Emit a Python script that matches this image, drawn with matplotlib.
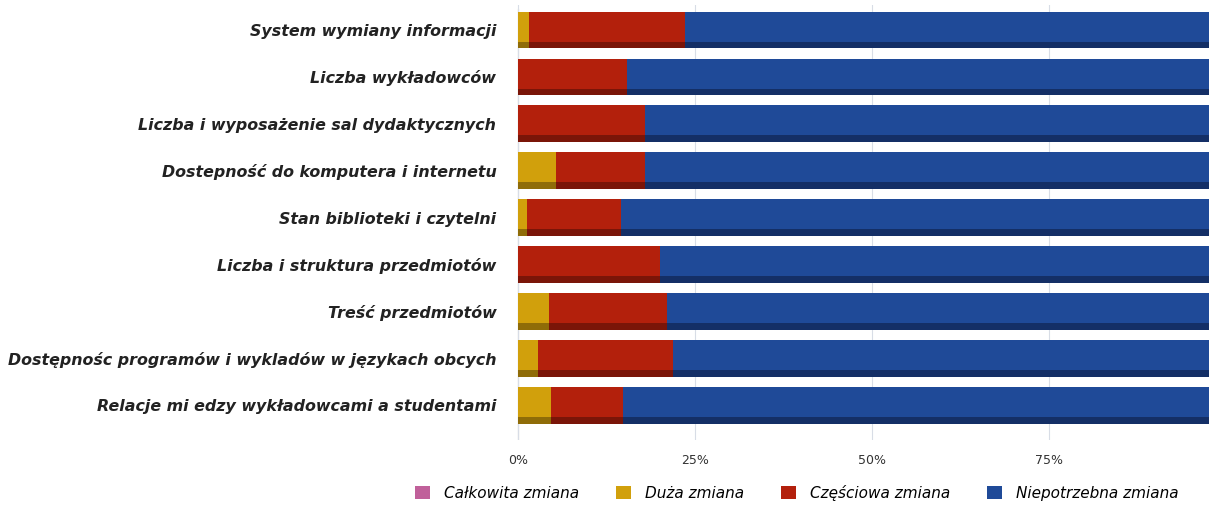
import numpy as np
import matplotlib.pyplot as plt
from matplotlib.patches import Patch

# Dane
kategorie = [
    'System wymiany informacji',
    'Liczba wykładowców',
    'Liczba i wyposażenie sal dydaktycznych',
    'Dostepność do komputera i internetu',
    'Stan biblioteki i czytelni',
    'Liczba i struktura przedmiotów',
    'Treść przedmiotów',
    'Dostępnośc programów i wykladów w językach obcych',
    'Relacje mi edzy wykładowcami a studentami',
]
calkowita = [0, 0, 0, 0, 0, 0, 0, 0, 0]
duza = [1.6, 0, 0, 5.4, 1.3, 0, 4.4, 2.8, 4.6]
czesciowa = [22.0, 15.4, 17.9, 12.6, 13.2, 20.0, 16.6, 19.1, 10.2]
niepotrzebna = [76.4, 84.6, 82.1, 82.0, 85.5, 80.0, 79.0, 78.1, 85.2]
serie = ['Całkowita zmiana', 'Duża zmiana', 'Częściowa zmiana', 'Niepotrzebna zmiana']
kolory = ['#c0609a', '#d1a00c', '#b3200c', '#1f4a98']
ciemne = ['#8a3f6c', '#8f6c08', '#7a1508', '#142f66']

fig = plt.figure(figsize=(12.09, 5.08), dpi=100)
ax = fig.add_axes([0.422, 0.134, 0.578, 0.856])

y = np.arange(len(kategorie))
h = 0.78
left = np.zeros(len(kategorie))
for vals, c, dc in zip([calkowita, duza, czesciowa, niepotrzebna], kolory, ciemne):
    vals = np.array(vals)
    # cień / efekt 3D
    ax.barh(y + h / 2 - 0.07, vals, left=left, height=0.14, color=dc, zorder=2)
    ax.barh(y - 0.07, vals, left=left, height=h - 0.14, color=c, zorder=3)
    left += vals

ax.set_ylim(len(kategorie) - 1 + 0.74, -0.53)
ax.set_xlim(-1.1, 97.6)
ax.set_xticks([0, 25, 50, 75])
ax.set_xticklabels(['0%', '25%', '50%', '75%'], fontsize=9, color='#333333')
ax.tick_params(axis='x', length=0, pad=10)
ax.set_yticks(y)
ax.set_yticklabels(kategorie, fontsize=11.4, fontweight='bold', style='italic', color='#222222')
ax.tick_params(axis='y', length=0, pad=10)
ax.grid(axis='x', color='#d8dde6', lw=0.8, zorder=0)
for s in ax.spines.values():
    s.set_visible(False)
ax.axvline(0, color='#999999', lw=0.8, ymin=0, ymax=0.99, zorder=1)

uchwyty = [Patch(facecolor=c, edgecolor='none') for c in kolory]
fig.legend(uchwyty, serie, loc='center', bbox_to_anchor=(0.659, 0.03), ncol=4,
           frameon=False, prop={'size': 11, 'style': 'italic'},
           handlelength=1.0, handleheight=1.0, columnspacing=2.4, handletextpad=0.9)

fig.savefig('out.png', dpi=100)
